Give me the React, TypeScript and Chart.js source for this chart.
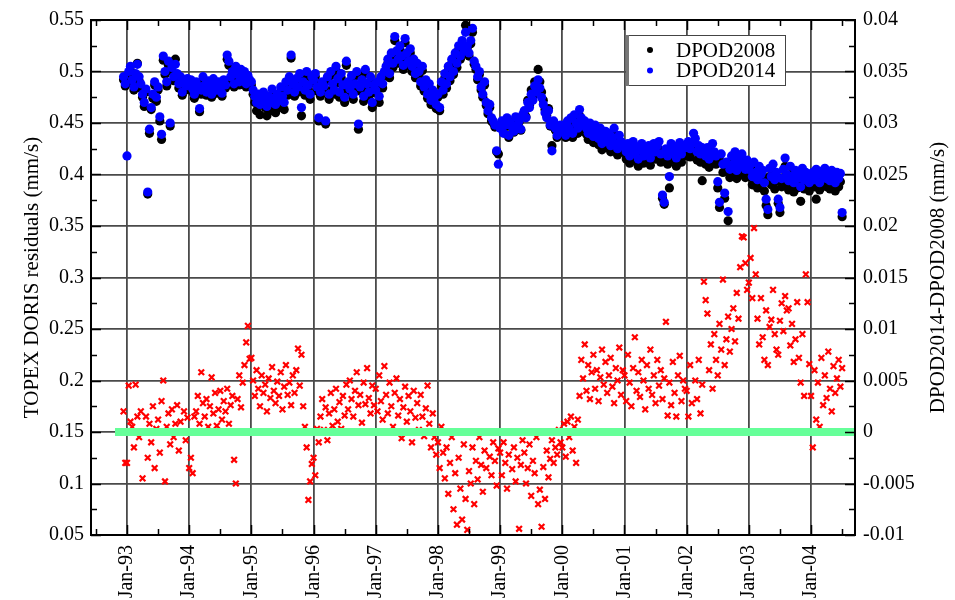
import { useEffect, useRef } from "react";
import { Chart, registerables } from "chart.js";

Chart.register(...registerables);

// Sampling grid of the series (decimal years, ~10-day sampling)
const FIRST_SAMPLE = 1992.9444;
const SAMPLES_PER_YEAR = 36;

// TOPEX DORIS residuals with DPOD2008 (mm/s)
const dpod2008: number[] = [
  .492, .486,
  .489, .497, .501, .488, .482, .494, .508, .491, .484, .475, .466, .480, .381, .440, .463, .474, .487, .471, .482, .452, .434, .511, .497, .486, .506, .447, .500, .491, .512, .494, .484, .491, .477, .488, .482, .490,
  .485, .489, .480, .474, .487, .483, .461, .478, .492, .484, .477, .488, .482, .475, .490, .485, .479, .487, .481, .476, .489, .484, .512, .506, .492, .497, .485, .502, .494, .487, .499, .491, .497, .485, .493, .489,
  .487, .478, .470, .462, .473, .458, .468, .475, .465, .457, .470, .462, .478, .468, .460, .472, .465, .480, .470, .463, .486, .477, .490, .513, .484, .476, .489, .480, .494, .457, .486, .477, .496, .483, .473, .491,
  .489, .495, .481, .452, .476, .486, .482, .449, .491, .473, .496, .484, .478, .501, .489, .475, .494, .483, .470, .506, .486, .479, .492, .473, .484, .496, .444, .481, .488, .471, .498, .484, .476, .491, .465, .483,
  .479, .487, .470, .491, .484, .496, .501, .508, .494, .514, .504, .530, .516, .508, .521, .511, .502, .528, .514, .506, .518, .500, .508, .494, .504, .496, .486, .501, .481, .488, .474, .484, .468, .478, .470, .464,
  .475, .462, .486, .478, .494, .484, .501, .491, .508, .497, .514, .504, .521, .512, .527, .517, .545, .523, .515, .527, .538, .507, .502, .492, .497, .482, .475, .487, .467, .459, .465, .452, .450, .446, .422, .420,
  .446, .450, .441, .447, .452, .436, .449, .445, .441, .454, .447, .451, .443, .456, .461, .456, .472, .467, .482, .476, .490, .486, .502, .490, .480, .472, .463, .457, .464, .447, .428, .450, .443, .436, .440, .446,
  .440, .446, .436, .449, .442, .451, .436, .453, .445, .440, .457, .449, .442, .446, .439, .434, .444, .437, .431, .442, .434, .429, .439, .424, .432, .436, .426, .434, .422, .430, .439, .424, .419, .432, .426, .422,
  .421, .415, .423, .411, .418, .425, .413, .420, .408, .417, .423, .411, .419, .414, .421, .409, .417, .422, .415, .420, .424, .412, .377, .371, .417, .410, .387, .422, .414, .419, .408, .416, .423, .412, .420, .418,
  .420, .424, .417, .422, .431, .427, .414, .420, .412, .394, .416, .410, .418, .407, .412, .422, .414, .410, .387, .368, .412, .402, .377, .404, .355, .397, .410, .402, .414, .396, .407, .400, .412, .402, .397, .406,
  .398, .402, .390, .404, .394, .387, .400, .392, .396, .384, .370, .361, .398, .390, .402, .386, .394, .372, .363, .388, .397, .408, .391, .385, .400, .389, .383, .395, .387, .392, .374, .398, .386, .393, .389, .384,
  .390, .394, .388, .376, .392, .385, .395, .390, .398, .388, .393, .386, .396, .391, .384, .394, .388, .393, .359,
];

// TOPEX DORIS residuals with DPOD2014 (mm/s)
const dpod2014: number[] = [
  .495, .488,
  .418, .500, .505, .492, .485, .498, .507, .495, .488, .478, .470, .483, .383, .444, .465, .478, .490, .475, .485, .456, .439, .515, .500, .490, .510, .450, .504, .495, .507, .498, .488, .495, .480, .492, .486, .493,
  .488, .492, .483, .478, .490, .486, .464, .482, .495, .487, .480, .491, .485, .478, .493, .488, .482, .490, .484, .479, .492, .487, .516, .510, .495, .500, .488, .505, .497, .490, .502, .494, .500, .488, .496, .492,
  .490, .482, .476, .470, .478, .468, .474, .480, .472, .466, .476, .470, .483, .474, .468, .478, .472, .485, .476, .470, .490, .482, .495, .516, .488, .480, .493, .485, .498, .465, .490, .482, .500, .487, .478, .495,
  .492, .498, .485, .455, .480, .490, .486, .452, .495, .478, .500, .488, .482, .505, .493, .480, .498, .487, .475, .510, .490, .483, .496, .478, .488, .500, .449, .485, .492, .476, .502, .488, .480, .495, .470, .487,
  .482, .490, .476, .495, .488, .500, .505, .512, .498, .518, .508, .534, .520, .512, .525, .515, .506, .532, .518, .510, .522, .505, .512, .498, .508, .500, .490, .505, .485, .492, .478, .488, .472, .482, .475, .468,
  .478, .465, .490, .482, .498, .488, .505, .495, .512, .500, .518, .508, .525, .515, .530, .520, .538, .525, .518, .530, .542, .510, .505, .495, .500, .485, .478, .490, .470, .462, .468, .455, .452, .448, .423, .410,
  .445, .452, .440, .448, .455, .438, .450, .446, .442, .456, .448, .452, .444, .458, .462, .455, .470, .465, .478, .472, .486, .480, .492, .484, .475, .468, .460, .455, .462, .448, .423, .452, .445, .438, .442, .448,
  .442, .448, .438, .452, .445, .455, .440, .458, .450, .445, .463, .455, .448, .452, .445, .440, .450, .443, .437, .448, .440, .435, .445, .430, .438, .442, .432, .440, .428, .436, .445, .430, .425, .438, .432, .428,
  .428, .422, .430, .418, .425, .432, .420, .427, .415, .424, .430, .418, .426, .421, .428, .416, .424, .430, .422, .428, .432, .420, .380, .373, .425, .418, .398, .430, .422, .427, .416, .424, .431, .420, .428, .426,
  .428, .432, .425, .430, .440, .435, .422, .428, .420, .426, .424, .418, .426, .415, .420, .430, .422, .418, .393, .373, .420, .410, .382, .412, .364, .405, .418, .410, .422, .404, .415, .408, .420, .410, .405, .414,
  .405, .410, .398, .412, .402, .395, .408, .400, .404, .392, .376, .366, .406, .398, .410, .395, .402, .376, .368, .396, .405, .416, .400, .394, .408, .398, .392, .404, .396, .400, .388, .406, .395, .402, .398, .392,
  .398, .402, .395, .405, .400, .392, .403, .398, .406, .396, .401, .394, .404, .399, .392, .402, .396, .401, .363,
];

// DPOD2014 - DPOD2008 (mm/s), right axis
const difference: number[] = [
  .002, -.003,
  -.003, .0045, .001, .0005, -.0015, .0046, .0015, -.0005, .002, -.0045, 0, .0015, -.0025, .0008, -.001, .0025, -.0035, .0003, .0012, -.002, .003, .005, -.0048, .0005, .0018, -.0012, .0022, -.0005, .0008, .0026, -.0018, .001, 0, .002, -.0008, .0014,
  -.0035, -.0025, -.004, .0015, .002, .0035, .0008, .0058, .0028, .0015, .0032, .0005, .0025, .0053, .0018, .0038, .0006, .0022, .004, .0012, .003, .002, .0042, .0008, .0026, .0035, -.0027, -.005, .0032, .0055, .0024, .0048, .0065, .0087, .0103, .0071,
  .0072, .005, .0035, .006, .0042, .0025, .0055, .0038, .0046, .002, .0052, .0033, .0063, .004, .0028, .0049, .0035, .0058, .0022, .0044, .0065, .0036, .0048, .0026, .0055, .0038, .006, .0081, .0045, .0075, .0025, .0005, -.0015, -.0066, -.0048, -.0031,
  -.0025, -.0042, .0003, -.001, .0015, .0032, .0002, .0024, -.0008, .0018, .0038, .0006, .0022, .0042, .001, .0029, .0003, .0035, .0016, .0046, .0022, .005, .0032, .0015, .004, .0058, .0026, .0036, .0009, .0048, .0027, .0062, .0033, .0018, .0045, .0026,
  .0042, .002, .0055, .003, .0012, .0064, .0036, .0018, .0048, .0025, .0005, .0038, .0052, .0016, .0032, -.0006, .0024, .0044, .001, .0035, .002, -.001, .004, .0014, .0028, .0002, .0036, .0015, -.0004, .0023, .0045, .0008, -.0015, .0018, -.0005, -.0022,
  -.001, -.0035, .0005, -.002, -.0045, -.0015, -.006, -.003, -.0005, -.0075, -.004, -.009, -.0025, -.0055, -.0085, -.0012, -.0065, -.0095, -.0038, -.005, -.0015, -.007, -.0028, -.0046, -.0005, -.0032, -.0058, -.0018, -.0035, 0, -.0024, -.0042, -.001, -.0028, -.0052, -.0016,
  -.002, -.0042, -.001, -.003, -.0055, -.0022, 0, -.0036, -.0015, -.0048, -.0025, -.0094, -.0032, -.0008, -.002, -.005, -.0035, -.0012, -.0062, -.0028, -.004, -.0005, -.007, -.0056, -.0092, -.0034, -.0065, -.0018, -.0044, -.0026, -.0008, -.003, -.0015, -.0022, .0002, -.001,
  -.0015, .0008, -.0024, .001, -.0005, .0015, -.0018, .0005, -.003, .0012, .0035, .007, .0052, .0085, .004, .0065, .0032, .0058, .0075, .0042, .006, .003, .0053, .008, .0046, .0068, .0038, .0055, .0072, .0044, .0028, .0062, .005, .0082, .0036, .006,
  .0055, .003, .0075, .0048, .0025, .0062, .0092, .004, .0058, .0034, .007, .005, .0022, .0065, .0042, .008, .0036, .0055, .0028, .007, .0045, .006, .0032, .0052, .0107, .0016, .0048, .0026, .0068, .0038, .0015, .0055, .0074, .003, .005, .0042,
  .004, .0015, .0065, .0028, 0, .005, .0032, .007, .0018, .0046, .0146, .0128, .0115, .006, .0085, .0042, .0095, .007, .0055, .0105, .008, .0148, .0065, .009, .0112, .0078, .01, .012, .0088, .0135, .011, .016, .019, .0189, .0164, .0138,
  .0145, .0169, .013, .0198, .0153, .011, .0085, .013, .0092, .007, .0118, .0065, .0102, .0109, .0138, .0095, .008, .0075, .0108, .0125, .0098, .0132, .0118, .012, .0084, .0105, .0068, .009, .0126, .0072, .0048, .0095, .0035, .0153, .0126, .0066,
  .0035, -.0015, .006, .0012, .0048, .0005, .0072, .0026, .0055, .0033, .0078, .0042, .002, .0064, .0038, .0052, .007, .0044, .0062,
];

// zero reference line of the difference (start / end, decimal years)
const zeroLineYears = [1992.807, 2004.8];
const zeroLineValues = [0, 0];

const yearTicks = [1993, 1994, 1995, 1996, 1997, 1998, 1999, 2000, 2001, 2002, 2003, 2004];
const yearLabels = ["Jan-93", "Jan-94", "Jan-95", "Jan-96", "Jan-97", "Jan-98", "Jan-99", "Jan-00", "Jan-01", "Jan-02", "Jan-03", "Jan-04"];
const leftTicks = [0.05, 0.1, 0.15, 0.2, 0.25, 0.3, 0.35, 0.4, 0.45, 0.5, 0.55];
const rightTicks = [-0.01, -0.005, 0, 0.005, 0.01, 0.015, 0.02, 0.025, 0.03, 0.035, 0.04];

const X_MIN = 1992.421;
const X_MAX = 2004.707;

const FONT = "'Liberation Serif', 'Times New Roman', serif";
const GRID = "#4a4a4a";

const fmt = (v: number | string) => String(parseFloat(Number(v).toFixed(4)));

const toPoints = (vals: number[]) =>
  vals.map((y, i) => ({ x: FIRST_SAMPLE + i / SAMPLES_PER_YEAR, y }));

const framePlugin = {
  id: "frameTicks",
  afterDatasetsDraw(chart: any) {
    const { ctx, chartArea: a, scales } = chart;
    const sx = scales.x, sy = scales.y, sy2 = scales.y2;
    ctx.save();
    ctx.strokeStyle = "#000";
    ctx.lineWidth = 1.5;
    ctx.beginPath();
    const vTick = (v: number, len: number) => {
      const p = Math.round(sx.getPixelForValue(v)) + 0.5;
      if (p < a.left || p > a.right) return;
      ctx.moveTo(p, a.bottom); ctx.lineTo(p, a.bottom - len);
      ctx.moveTo(p, a.top); ctx.lineTo(p, a.top + len);
    };
    yearTicks.forEach((v) => vTick(v, 10));
    [yearTicks[0] - 1, ...yearTicks].forEach((v) => vTick(v + 0.5, 6));
    const hTick = (s: any, v: number, len: number, left: boolean) => {
      const p = Math.round(s.getPixelForValue(v)) + 0.5;
      if (p < a.top - 1 || p > a.bottom + 1) return;
      if (left) { ctx.moveTo(a.left, p); ctx.lineTo(a.left + len, p); }
      else { ctx.moveTo(a.right, p); ctx.lineTo(a.right - len, p); }
    };
    leftTicks.forEach((v, i) => {
      hTick(sy, v, 10, true);
      if (i < leftTicks.length - 1) hTick(sy, (v + leftTicks[i + 1]) / 2, 6, true);
    });
    rightTicks.forEach((v, i) => {
      hTick(sy2, v, 10, false);
      if (i < rightTicks.length - 1) hTick(sy2, (v + rightTicks[i + 1]) / 2, 6, false);
    });
    ctx.stroke();
    ctx.lineWidth = 2;
    ctx.strokeRect(a.left, a.top, a.right - a.left, a.bottom - a.top);
    ctx.restore();
  },
  afterDraw(chart: any) {
    const { ctx, chartArea: a } = chart;
    ctx.save();
    // axis titles (both read bottom-to-top)
    ctx.fillStyle = "#000";
    ctx.font = `21px ${FONT}`;
    ctx.textAlign = "center";
    ctx.textBaseline = "middle";
    const cy = (a.top + a.bottom) / 2;
    ctx.save();
    ctx.translate(a.left - 59, cy);
    ctx.rotate(-Math.PI / 2);
    ctx.fillText("TOPEX DORIS residuals (mm/s)", 0, 0);
    ctx.restore();
    ctx.save();
    ctx.translate(a.right + 83, cy);
    ctx.rotate(-Math.PI / 2);
    ctx.fillText("DPOD2014-DPOD2008 (mm/s)", 0, 0);
    ctx.restore();

    // legend box
    const bx = a.right - 228, by = a.top + 15, bw = 158, bh = 50;
    ctx.fillStyle = "#fff";
    ctx.fillRect(bx, by, bw, bh);
    ctx.strokeStyle = "#444";
    ctx.lineWidth = 1;
    ctx.strokeRect(bx + 0.5, by + 0.5, bw, bh);
    ctx.fillStyle = "#777";
    ctx.fillRect(bx - 1, by, 3, bh + 1);
    const entries = chart.data.datasets.filter((d: any) => d.legendRank !== undefined)
      .sort((p: any, q: any) => p.legendRank - q.legendRank);
    ctx.font = `21px ${FONT}`;
    ctx.textAlign = "left";
    entries.forEach((d: any, i: number) => {
      const y = by + 15 + i * 20.5;
      ctx.fillStyle = d.backgroundColor;
      ctx.beginPath();
      ctx.arc(bx + 23, y, 3, 0, Math.PI * 2);
      ctx.fill();
      ctx.fillStyle = "#000";
      ctx.fillText(d.label, bx + 49, y + 1);
    });
    ctx.restore();
  },
};

export default function App() {
  const ref = useRef<HTMLCanvasElement | null>(null);
  useEffect(() => {
    if (!ref.current) return;
    const tickFont = { family: FONT, size: 20 };
    const chart = new Chart(ref.current, {
      type: "scatter",
      data: {
        datasets: [
          {
            label: "zero",
            data: zeroLineYears.map((x, i) => ({ x, y: zeroLineValues[i] })),
            yAxisID: "y2",
            showLine: true,
            borderColor: "#66ff99",
            borderWidth: 8,
            borderCapStyle: "butt",
            pointRadius: 0,
            order: 0,
          } as any,
          {
            label: "DPOD2014-DPOD2008",
            data: toPoints(difference),
            yAxisID: "y2",
            pointStyle: "crossRot",
            pointRadius: 4,
            borderColor: "#ff0000",
            backgroundColor: "#ff0000",
            borderWidth: 2.2,
            order: 1,
          } as any,
          {
            label: "DPOD2014",
            legendRank: 1,
            data: toPoints(dpod2014),
            yAxisID: "y",
            pointRadius: 4.6,
            borderWidth: 0,
            backgroundColor: "#0000ff",
            order: 2,
          } as any,
          {
            label: "DPOD2008",
            legendRank: 0,
            data: toPoints(dpod2008),
            yAxisID: "y",
            pointRadius: 4.6,
            borderWidth: 0,
            backgroundColor: "#000000",
            order: 3,
          } as any,
        ],
      },
      options: {
        animation: false,
        responsive: true,
        maintainAspectRatio: false,
        layout: { padding: { top: 13, left: 0, right: 0, bottom: 0 } },
        plugins: { legend: { display: false }, tooltip: { enabled: false } },
        scales: {
          x: {
            type: "linear",
            min: X_MIN,
            max: X_MAX,
            afterBuildTicks: (s: any) => { s.ticks = yearTicks.map((v) => ({ value: v })); },
            afterFit: (s: any) => { s.height = 65; },
            grid: { color: GRID, lineWidth: 1.8, drawTicks: false },
            border: { display: false },
            ticks: {
              autoSkip: false,
              minRotation: 90,
              maxRotation: 90,
              padding: 10,
              color: "#000",
              font: tickFont,
              callback: (_v: any, i: number) => yearLabels[i],
            },
          },
          y: {
            type: "linear",
            position: "left",
            min: 0.05,
            max: 0.55,
            afterBuildTicks: (s: any) => { s.ticks = leftTicks.map((v) => ({ value: v })); },
            afterFit: (s: any) => { s.width = 91; },
            grid: { color: GRID, lineWidth: 1.8, drawTicks: false },
            border: { display: false },
            ticks: { padding: 7, color: "#000", font: tickFont, callback: (v: any) => fmt(v) },
          },
          y2: {
            type: "linear",
            position: "right",
            min: -0.01,
            max: 0.04,
            afterBuildTicks: (s: any) => { s.ticks = rightTicks.map((v) => ({ value: v })); },
            afterFit: (s: any) => { s.width = 100; },
            grid: { display: false, drawOnChartArea: false, drawTicks: false },
            border: { display: false },
            ticks: { padding: 8, color: "#000", font: tickFont, callback: (v: any) => fmt(v) },
          },
        },
      } as any,
      plugins: [framePlugin],
    });
    return () => chart.destroy();
  }, []);
  return (
    <div style={{ position: "fixed", left: 0, top: 0, width: 955, height: 600, background: "#fff" }}>
      <canvas ref={ref} />
    </div>
  );
}
